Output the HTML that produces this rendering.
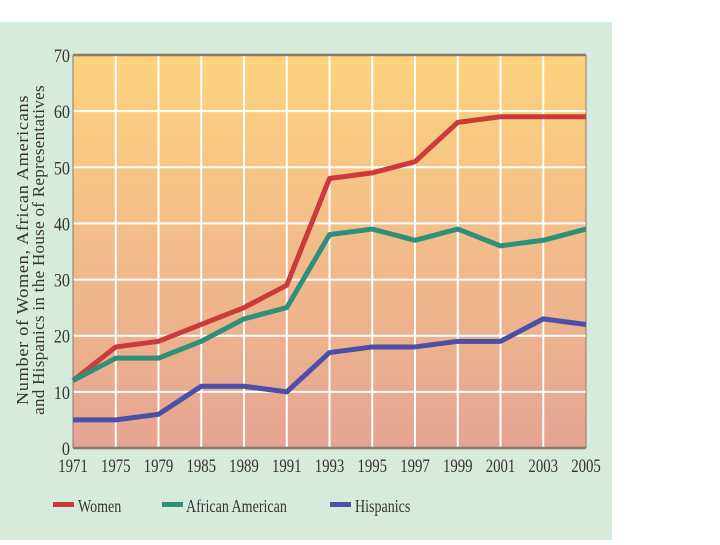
<!DOCTYPE html>
<html><head><meta charset="utf-8"><style>
body{margin:0;background:#fff;width:720px;height:540px;overflow:hidden}
svg text{font-family:"Liberation Serif",serif;fill:#333}
</style></head><body>
<svg width="720" height="540">
<defs><linearGradient id="g" x1="0" y1="0" x2="0" y2="1">
<stop offset="0" stop-color="#fdd47e"/><stop offset="0.5" stop-color="#f2bb8a"/><stop offset="1" stop-color="#e5a493"/></linearGradient></defs>
<rect x="0" y="22" width="612" height="518" fill="#d7ebdd"/>
<rect x="73" y="55" width="513" height="393" fill="url(#g)"/>
<g id="grid"></g><g id="axes"></g><g id="series"></g>
<text transform="translate(28,250) rotate(-90) scale(1.08,1)" text-anchor="middle" font-size="17" letter-spacing="0.6">Number of Women, African Americans</text>
<text transform="translate(44,250) rotate(-90) scale(1.0,1)" text-anchor="middle" font-size="17" letter-spacing="0.3">and Hispanics in the House of Representatives</text>
<g>
<rect x="53" y="502" width="21" height="5" fill="#cc3b3b"/>
<text x="78" y="512" font-size="18" transform="translate(78,0) scale(0.78,1) translate(-78,0)">Women</text>
<rect x="162" y="502" width="21" height="5" fill="#2e8f7a"/>
<text x="186" y="512" font-size="18" transform="translate(186,0) scale(0.78,1) translate(-186,0)">African American</text>
<rect x="330" y="502" width="21" height="5" fill="#4a4fa8"/>
<text x="355" y="512" font-size="18" transform="translate(355,0) scale(0.78,1) translate(-355,0)">Hispanics</text>
</g>
</svg>
<script>
const years=["1971","1975","1979","1985","1989","1991","1993","1995","1997","1999","2001","2003","2005"];
const women=[12,18,19,22,25,29,48,49,51,58,59,59,59];
const africanAmerican=[12,16,16,19,23,25,38,39,37,39,36,37,39];
const hispanics=[5,5,6,11,11,10,17,18,18,19,19,23,22];
const yTicks=[0,10,20,30,40,50,60,70];
const NS="http://www.w3.org/2000/svg";
const L=73,R=586,T=55,B=448,YMAX=70;
const xs=i=>L+i*(R-L)/(years.length-1);
const ys=v=>B-v*(B-T)/YMAX;
function mk(tag,attrs,parent){const e=document.createElementNS(NS,tag);for(const k in attrs)e.setAttribute(k,attrs[k]);parent.appendChild(e);return e;}
const grid=document.getElementById('grid'),axes=document.getElementById('axes'),ser=document.getElementById('series');
yTicks.forEach(v=>{
  if(v>0&&v<70){const l=mk('line',{x1:L,x2:R,y1:ys(v),y2:ys(v),stroke:'#fff','stroke-width':2},grid);
  
  }
  const t=mk('text',{x:70,y:ys(v)+7,'text-anchor':'end','font-size':19,transform:`translate(70,0) scale(0.85,1) translate(-70,0)`},axes);t.textContent=v;
  
  
});
years.forEach((y,i)=>{
  if(i>0&&i<years.length-1){const l=mk('line',{x1:xs(i),x2:xs(i),y1:T,y2:B,stroke:'#fff','stroke-width':2},grid);
  
  }
  const t=mk('text',{x:xs(i),y:472,'text-anchor':'middle','font-size':19,transform:`translate(${xs(i)},0) scale(0.78,1) translate(${-xs(i)},0)`},axes);t.textContent=y;
  
  
});
[[L,T,R,T,'axis-top'],[L,B,R,B,'axis-bottom'],[L,T,L,B,'axis-left'],[R,T,R,B,'axis-right']].forEach(([a,b,c,d,n])=>{const l=mk('line',{x1:a,y1:b,x2:c,y2:d,stroke:'#8a7a6a','stroke-width':n.includes('top')||n.includes('bottom')?2.5:1},axes);

});
[[women,'#cc3b3b','line-women'],[africanAmerican,'#2e8f7a','line-african-american'],[hispanics,'#4a4fa8','line-hispanics']].forEach(([d,c,n])=>{
  const p=mk('polyline',{points:d.map((v,i)=>xs(i)+','+ys(v)).join(' '),fill:'none',stroke:c,'stroke-width':5,'stroke-linejoin':'round'},ser);
  
  
});
</script>
</body></html>
